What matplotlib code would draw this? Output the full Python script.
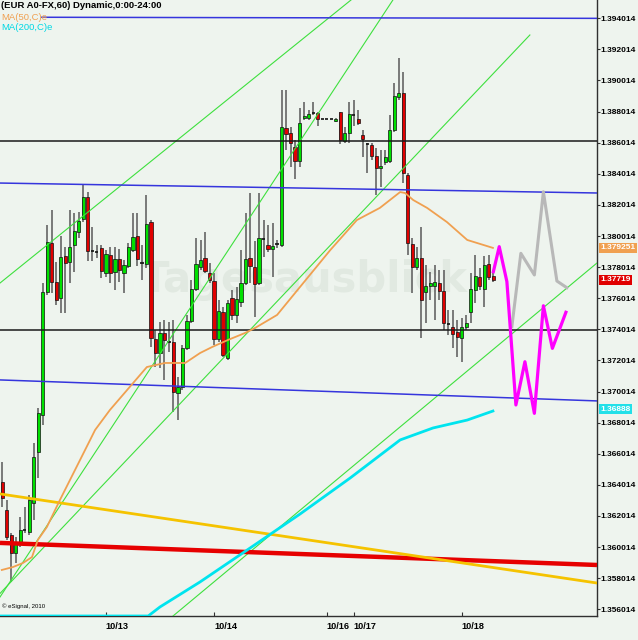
import matplotlib
matplotlib.use('Agg')
import matplotlib.pyplot as plt
import numpy as np

# hourly EUR/USD candles, 10/12 - 10/18
opens = [
    1.36420, 1.36240, 1.36079, 1.35963, 1.36027, 1.36111, 1.36098, 1.36285, 1.36613, 1.36851,
    1.37641, 1.37957, 1.37706, 1.37603, 1.37873, 1.37834, 1.37944, 1.38027, 1.38111, 1.38252,
    1.37905, 1.37899, 1.37924, 1.37764, 1.37879, 1.37770, 1.37854, 1.37764, 1.37809, 1.37912,
    1.38002, 1.37828, 1.37822, 1.38092, 1.37339, 1.37249, 1.37378, 1.37320, 1.37320, 1.36992,
    1.37031, 1.37281, 1.37455, 1.37661, 1.37802, 1.37860, 1.37764, 1.37712, 1.37339, 1.37513,
    1.37217, 1.37603, 1.37493, 1.37577, 1.37699, 1.37860, 1.37802, 1.37699, 1.37982, 1.37944,
    1.37918, 1.37950, 1.37944, 1.38696, 1.38664, 1.38574, 1.38484, 1.38760, 1.38760, 1.38792,
    1.38792, 1.38754, 1.38754, 1.38754, 1.38741, 1.38799, 1.38612, 1.38664, 1.38780, 1.38754,
    1.38651, 1.38593, 1.38587, 1.38516, 1.38439, 1.38477, 1.38484, 1.38683, 1.38895, 1.38921,
    1.38394, 1.37950, 1.37802, 1.37860, 1.37641, 1.37680, 1.37680, 1.37699, 1.37648, 1.37436,
    1.37416, 1.37384, 1.37346, 1.37416, 1.37513, 1.37654, 1.37738, 1.37661, 1.37822, 1.37744,
]
highs = [
    1.36548, 1.36304, 1.36092, 1.36066, 1.36195, 1.36259, 1.36336, 1.36671, 1.36896, 1.37699,
    1.38072, 1.38169, 1.37834, 1.38002, 1.37931, 1.38169, 1.38149, 1.38156, 1.38336, 1.38284,
    1.38059, 1.37944, 1.37944, 1.37912, 1.37931, 1.37931, 1.37918, 1.37847, 1.37957, 1.38149,
    1.38149, 1.37944, 1.38265, 1.38104, 1.37397, 1.37449, 1.37461, 1.37449, 1.37461, 1.37095,
    1.37301, 1.37494, 1.37719, 1.37989, 1.37976, 1.38027, 1.37828, 1.37764, 1.37590, 1.37545,
    1.37590, 1.37654, 1.37674, 1.37912, 1.38149, 1.38278, 1.37969, 1.38278, 1.38104, 1.38072,
    1.38085, 1.37976, 1.38940, 1.38940, 1.38702, 1.38619, 1.38825, 1.38863, 1.38812, 1.38863,
    1.38799, 1.38754, 1.38754, 1.38754, 1.38760, 1.38799, 1.38702, 1.38863, 1.38876, 1.38812,
    1.38683, 1.38599, 1.38599, 1.38567, 1.38555, 1.38555, 1.38780, 1.38985, 1.39146, 1.39056,
    1.38407, 1.37989, 1.37931, 1.38059, 1.37815, 1.37770, 1.37815, 1.37783, 1.37783, 1.37526,
    1.37526, 1.37461, 1.37474, 1.37494, 1.37764, 1.37879, 1.37796, 1.37873, 1.37879, 1.37783,
]
lows = [
    1.36259, 1.36047, 1.35777, 1.35899, 1.36002, 1.36092, 1.36079, 1.36175, 1.36446, 1.36786,
    1.37622, 1.37635, 1.37558, 1.37506, 1.37506, 1.37699, 1.37770, 1.37989, 1.38092, 1.37841,
    1.37841, 1.37860, 1.37731, 1.37738, 1.37699, 1.37654, 1.37706, 1.37635, 1.37796, 1.37899,
    1.37809, 1.37719, 1.37796, 1.37288, 1.37159, 1.37153, 1.37076, 1.37256, 1.36870, 1.36818,
    1.37011, 1.37269, 1.37442, 1.37648, 1.37783, 1.37764, 1.37699, 1.37301, 1.37320, 1.37224,
    1.37204, 1.37461, 1.37442, 1.37545, 1.37686, 1.37699, 1.37481, 1.37686, 1.37867, 1.37899,
    1.37738, 1.37924, 1.37931, 1.38555, 1.38445, 1.38368, 1.38445, 1.38747, 1.38747, 1.38780,
    1.38709, 1.38754, 1.38754, 1.38754, 1.38735, 1.38593, 1.38599, 1.38599, 1.38709, 1.38715,
    1.38510, 1.38407, 1.38490, 1.38265, 1.38317, 1.38458, 1.38471, 1.38670, 1.38876, 1.38342,
    1.37879, 1.37635, 1.37783, 1.37346, 1.37442, 1.37590, 1.37461, 1.37590, 1.37397, 1.37365,
    1.37281, 1.37224, 1.37191, 1.37397, 1.37442, 1.37571, 1.37654, 1.37545, 1.37719, 1.37706,
]
closes = [
    1.36317, 1.36066, 1.35963, 1.36034, 1.36111, 1.36108, 1.36304, 1.36581, 1.36863, 1.37641,
    1.37963, 1.37706, 1.37590, 1.37867, 1.37828, 1.37931, 1.38034, 1.38098, 1.38252, 1.37905,
    1.37902, 1.37896, 1.37777, 1.37886, 1.37764, 1.37854, 1.37783, 1.37815, 1.37931, 1.37995,
    1.37854, 1.37825, 1.38079, 1.37346, 1.37249, 1.37378, 1.37333, 1.37317, 1.36998, 1.37031,
    1.37281, 1.37455, 1.37661, 1.37822, 1.37847, 1.37777, 1.37719, 1.37339, 1.37519, 1.37236,
    1.37571, 1.37493, 1.37596, 1.37699, 1.37854, 1.37809, 1.37693, 1.37989, 1.37979, 1.37918,
    1.37937, 1.37948, 1.38702, 1.38657, 1.38599, 1.38484, 1.38728, 1.38773, 1.38786, 1.38790,
    1.38754, 1.38754, 1.38754, 1.38754, 1.38754, 1.38619, 1.38664, 1.38786, 1.38777, 1.38728,
    1.38625, 1.38590, 1.38516, 1.38439, 1.38452, 1.38510, 1.38683, 1.38902, 1.38921, 1.38407,
    1.37957, 1.37802, 1.37860, 1.37590, 1.37680, 1.37699, 1.37706, 1.37648, 1.37442, 1.37433,
    1.37371, 1.37352, 1.37416, 1.37442, 1.37661, 1.37744, 1.37680, 1.37815, 1.37738, 1.37719,
]

# moving averages (bar index, price)
ma50_x = [-0.1, 2.4, 4.6, 6.6, 7.9, 9.9, 12.8, 19.5, 20.6, 23.9, 32.1, 36.1, 40.6, 43.9, 46.6,
          50.1, 53.9, 56.1, 61.0, 66.8, 72.8, 78.7, 83.8, 88.3, 89.4, 91.2, 94.3, 98.7, 103.2, 108.9]
ma50_y = [1.35854, 1.35873, 1.35899, 1.35937, 1.36047, 1.36130, 1.36304, 1.36690, 1.36754, 1.36883,
          1.37159, 1.37185, 1.37185, 1.37249, 1.37288, 1.37333, 1.37378, 1.37410, 1.37494, 1.37699,
          1.37911, 1.38104, 1.38182, 1.38284, 1.38278, 1.38233, 1.38182, 1.38091, 1.37976, 1.37925]
ma200_x = [-0.5, 32.4, 35.0, 43.9, 55.0, 66.1, 77.2, 88.3, 95.6, 103.2, 108.9]
ma200_y = [1.35558, 1.35558, 1.35616, 1.35777, 1.35995, 1.36214, 1.36445, 1.36690, 1.36767, 1.36818, 1.36876]

# drawn trend lines: ((x0, y0), (x1, y1))
green_lines = [((-0.5, 1.37699), (77.4, 1.39519)),
               ((-0.5, 1.35680), (86.7, 1.39519)),
               ((-0.5, 1.35703), (117.1, 1.39294)),
               ((37.9, 1.35558), (132.0, 1.37828))]
blue_lines = [((8.8, 1.39408), (132.0, 1.39401)),
              ((-0.5, 1.38342), (132.0, 1.38278)),
              ((-0.5, 1.37076), (132.0, 1.36941))]
black_levels = [1.38612, 1.37400]
red_line = ((-0.5, 1.36028), (132.0, 1.35886))
yellow_line = ((-0.5, 1.36343), (132.0, 1.35770))

# forecast scenarios
magenta_x = [109.0, 110.3, 112.0, 114.0, 116.0, 118.1, 120.1, 122.1, 125.1]
magenta_y = [1.37772, 1.37933, 1.37708, 1.36915, 1.37193, 1.36861, 1.37553, 1.37279, 1.37511]
grey_x = [113.1, 115.1, 118.1, 120.1, 123.1, 125.3]
grey_y = [1.37418, 1.37890, 1.37751, 1.38286, 1.37712, 1.37669]

day_ticks = [23, 47, 72, 78, 102]
day_labels = ['10/13', '10/14', '10/16', '10/17', '10/18']
price_ticks = [1.356014 + 0.002 * k for k in range(20)]

last_ma50 = 1.379251
last_close = 1.37719
last_ma200 = 1.36888

bg = '#eef4ee'
W, H = 638, 640
fig = plt.figure(figsize=(W / 100, H / 100), dpi=100, facecolor=bg)
ax = fig.add_axes([0, 24 / H, 597 / W, 616 / H], facecolor=bg)
ax.set_xlim(-0.5, 132.0)
ax.set_ylim(1.35558, 1.39519)

# watermark
ax.text(67, 1.3772, 'Tagesausblick', fontsize=30, fontweight='bold', color='#e1e9e1',
        ha='center', va='center', zorder=0.5, family='DejaVu Sans')

# candles
x = np.arange(len(opens))
o = np.array(opens); c = np.array(closes)
ax.vlines(x, lows, highs, color='#585858', lw=1.1, zorder=2)
up = c > o
dn = c < o
doji = np.abs(c - o) < 0.00005
body_w = 0.72
ax.bar(x[up & ~doji], (c - o)[up & ~doji], bottom=o[up & ~doji], width=body_w,
       color='#00e000', edgecolor='#101010', lw=0.5, zorder=3)
ax.bar(x[dn & ~doji], (o - c)[dn & ~doji], bottom=c[dn & ~doji], width=body_w,
       color='#e00000', edgecolor='#101010', lw=0.5, zorder=3)
ax.hlines(o[doji], x[doji] - body_w / 2, x[doji] + body_w / 2, color='#101010', lw=1.2, zorder=3)

# lines
for (a, b) in green_lines:
    ax.plot([a[0], b[0]], [a[1], b[1]], color='#3ee03e', lw=0.8, zorder=4)
for (a, b) in blue_lines:
    ax.plot([a[0], b[0]], [a[1], b[1]], color='#3535dd', lw=1.1, zorder=4)
for lv in black_levels:
    ax.axhline(lv, color='#1a1a1a', lw=1.1, zorder=4)
ax.plot([red_line[0][0], red_line[1][0]], [red_line[0][1], red_line[1][1]],
        color='#e60000', lw=3.2, zorder=4, solid_capstyle='butt')
ax.plot([yellow_line[0][0], yellow_line[1][0]], [yellow_line[0][1], yellow_line[1][1]],
        color='#f5c300', lw=2.0, zorder=4)
ax.plot(ma50_x, ma50_y, color='#f0a050', lw=1.3, zorder=4)
ax.plot(ma200_x, ma200_y, color='#00e4ee', lw=2.0, zorder=4)
ax.plot(grey_x, grey_y, color='#b8b8b8', lw=2.2, zorder=5)
ax.plot(magenta_x, magenta_y, color='#ff00ff', lw=2.3, zorder=6)

# axes
for s in ['top', 'left']:
    ax.spines[s].set_visible(False)
for s in ['right', 'bottom']:
    ax.spines[s].set_color('#303030')
    ax.spines[s].set_linewidth(1.0)
ax.yaxis.tick_right()
ax.set_yticks(price_ticks)
ax.set_yticklabels(['%.6f' % v for v in price_ticks], fontsize=6.0, fontweight='bold',
                   family='Liberation Sans')
ax.tick_params(axis='y', length=2, width=0.8, pad=0.5, color='#303030')
ax.set_xticks(day_ticks)
ax.set_xticklabels(day_labels, fontsize=6.6, fontweight='bold', family='Liberation Sans',
                   ha='left')
ax.tick_params(axis='x', length=3, width=0.8, pad=4, direction='in', color='#303030')

# price tags on the axis
tag_font = dict(fontsize=6.0, fontweight='bold', family='Liberation Sans', color='white',
                va='center', ha='left', zorder=10)
for val, txt, col in [(last_ma50, '1.379251', '#f0a050'),
                      (last_close, '1.37719', '#e00000'),
                      (last_ma200, '1.36888', '#22e0e8')]:
    ax.text(1.006, val, txt, transform=ax.get_yaxis_transform(), clip_on=False,
            bbox=dict(boxstyle='square,pad=0.15', fc=col, ec='none'), **tag_font)

# header texts
fig.text(1 / W, 1 - 5 / H, '(EUR A0-FX,60) Dynamic,0:00-24:00', fontsize=6.8,
         fontweight='bold', family='Liberation Sans', va='center', ha='left')
fig.text(1 / W, 1 - 17 / H, 'MA(50,C)e', fontsize=6.8, color='#f0a050',
         family='Liberation Sans', va='center', ha='left')
fig.text(1 / W, 1 - 28 / H, 'MA(200,C)e', fontsize=6.8, color='#00d8e4',
         family='Liberation Sans', va='center', ha='left')
fig.text(2 / W, 1 - 606 / H, '\u00a9 eSignal, 2010', fontsize=4.3,
         family='Liberation Sans', va='center', ha='left')

fig.savefig('out.png', dpi=100, facecolor=bg)
